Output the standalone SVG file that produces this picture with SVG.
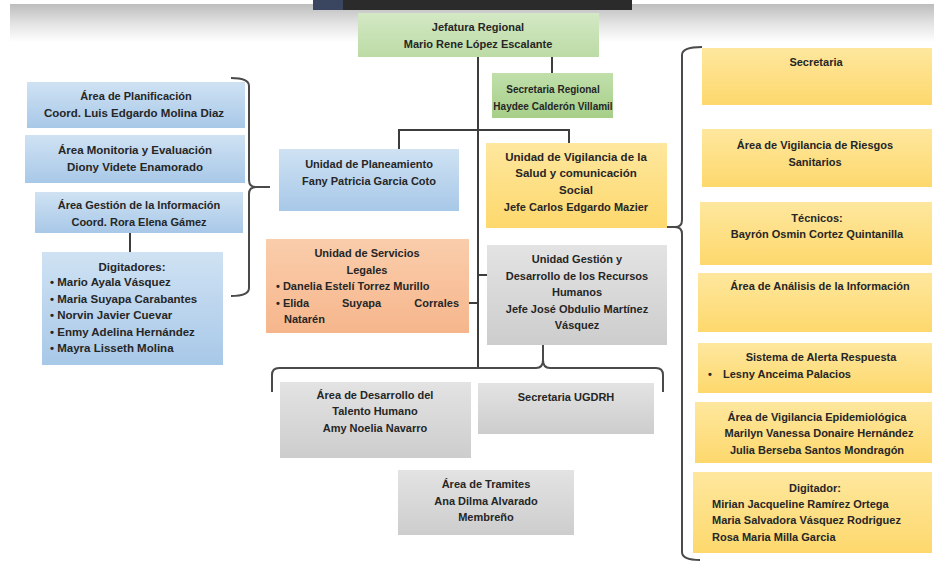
<svg xmlns="http://www.w3.org/2000/svg" width="934" height="564" viewBox="0 0 934 564">
<defs>
<linearGradient id="gTop" x1="0" y1="0" x2="0" y2="1"><stop offset="0" stop-color="#bdbdbd"/><stop offset="0.5" stop-color="#e2e2e2"/><stop offset="1" stop-color="#ffffff"/></linearGradient>
<linearGradient id="gBlue" x1="0" y1="0" x2="0" y2="1"><stop offset="0" stop-color="#cfe2f3"/><stop offset="1" stop-color="#a8c8e8"/></linearGradient>
<linearGradient id="gYel" x1="0" y1="0" x2="0" y2="1"><stop offset="0" stop-color="#fee79e"/><stop offset="1" stop-color="#fdd86c"/></linearGradient>
<linearGradient id="gGray" x1="0" y1="0" x2="0" y2="1"><stop offset="0" stop-color="#e3e3e3"/><stop offset="1" stop-color="#cdcdcd"/></linearGradient>
<linearGradient id="gOr" x1="0" y1="0" x2="0" y2="1"><stop offset="0" stop-color="#facdab"/><stop offset="1" stop-color="#f6b68c"/></linearGradient>
<linearGradient id="gGr1" x1="0" y1="0" x2="0" y2="1"><stop offset="0" stop-color="#d3e8c4"/><stop offset="1" stop-color="#bcdba5"/></linearGradient>
<linearGradient id="gGr2" x1="0" y1="0" x2="0" y2="1"><stop offset="0" stop-color="#c0dfaa"/><stop offset="1" stop-color="#a6cf88"/></linearGradient>
</defs>
<style>
text{font-family:"Liberation Sans",Arial,sans-serif;font-size:11px;font-weight:bold;fill:#262626}
.c{text-anchor:middle}
.e{text-anchor:end}
.s{font-size:10px}
.l{font-size:11.5px}
.ln{fill:none;stroke:#3d3d3d;stroke-width:2}
.br{fill:none;stroke:#4a4a4a;stroke-width:2}
</style>
<rect width="934" height="564" fill="#ffffff"/>
<rect x="10" y="4" width="924" height="38" fill="url(#gTop)"/>
<rect x="313" y="0" width="319" height="10" fill="#2b2b2b"/>
<rect x="313" y="0" width="30" height="10" fill="#3a4660"/>

<g id="connectors">
<path class="ln" d="M478,57 V368"/>
<path class="ln" d="M552,57 V73"/>
<path class="ln" d="M399,149 V130 H569 V143"/>
<path class="ln" d="M469,303 H478"/>
<path class="ln" d="M478,275 H487"/>
<path class="ln" d="M130,233 V252"/>
<path class="br" d="M272,392 V375 Q272,368 279,368 H536 Q543,368 543,360 V345 M543,360 Q543,368 550,368 H656 Q663,368 663,375 V392"/>
<path class="br" d="M231,78 Q249,78 249,86 V180 Q249,187 256,187 H270 M256,187 Q249,187 249,194 V288 Q249,296 231,296"/>
<path class="br" d="M702,47 Q682,47 682,55 V220 Q682,227 675,227 H665 M675,227 Q682,227 682,234 V552 Q682,560 700,560"/>
</g>

<g id="jefatura"><rect x="358" y="13" width="241" height="44" fill="url(#gGr1)"/>
<text class="c" x="478" y="31">Jefatura Regional</text><text class="c" x="478" y="48">Mario Rene López Escalante</text></g>

<g id="secretaria-regional"><rect x="492" y="73" width="121" height="45" fill="url(#gGr2)"/>
<text class="c s" x="553" y="93">Secretaria Regional</text><text class="c s" x="553" y="110">Haydee Calderón Villamil</text></g>

<g id="area-planificacion"><rect x="27" y="82" width="218" height="46" fill="url(#gBlue)"/>
<text class="c" x="136" y="100">Área de Planificación</text><text class="c l" x="134" y="117">Coord. Luis Edgardo Molina Diaz</text></g>

<g id="area-monitoria"><rect x="25" y="135" width="220" height="48" fill="url(#gBlue)"/>
<text class="c l" x="135" y="154">Área Monitoria y Evaluación</text><text class="c l" x="135" y="171">Diony Videte Enamorado</text></g>

<g id="area-gestion-info"><rect x="35" y="192" width="208" height="41" fill="url(#gBlue)"/>
<text class="c" x="139" y="209">Área Gestión de la Información</text><text class="c" x="139" y="226">Coord. Rora Elena Gámez</text></g>

<g id="digitadores"><rect x="42" y="252" width="181" height="113" fill="url(#gBlue)"/>
<text class="c l" x="132" y="271">Digitadores:</text>
<text class="l" x="50" y="286">• Mario Ayala Vásquez</text>
<text class="l" x="50" y="303">• Maria Suyapa Carabantes</text>
<text class="l" x="50" y="319">• Norvin Javier Cuevar</text>
<text class="l" x="50" y="336">• Enmy Adelina Hernández</text>
<text class="l" x="50" y="352">• Mayra Lisseth Molina</text></g>

<g id="unidad-planeamiento"><rect x="279" y="149" width="180" height="62" fill="url(#gBlue)"/>
<text class="c" x="369" y="168">Unidad de Planeamiento</text><text class="c" x="369" y="185">Fany Patricia Garcia Coto</text></g>

<g id="unidad-vigilancia"><rect x="486" y="143" width="181" height="85" fill="url(#gYel)"/>
<text class="c l" x="576" y="161">Unidad de Vigilancia de la</text>
<text class="c l" x="576" y="177">Salud y comunicación</text>
<text class="c l" x="576" y="194">Social</text>
<text class="c" x="576" y="211">Jefe Carlos Edgardo Mazier</text></g>

<g id="unidad-servicios-legales"><rect x="266" y="239" width="203" height="94" fill="url(#gOr)"/>
<text class="c" x="367" y="257">Unidad de Servicios</text>
<text class="c" x="367" y="274">Legales</text>
<text x="276" y="290">• Danelia Estelí Torrez Murillo</text>
<text x="276" y="307">• Elida</text><text x="342" y="307">Suyapa</text><text class="e" x="459" y="307">Corrales</text>
<text x="284" y="323">Natarén</text></g>

<g id="unidad-gestion"><rect x="487" y="245" width="180" height="100" fill="url(#gGray)"/>
<text class="c" x="577" y="263">Unidad Gestión y</text>
<text class="c" x="577" y="280">Desarrollo de los Recursos</text>
<text class="c" x="577" y="296">Humanos</text>
<text class="c" x="577" y="313">Jefe José Obdulio Martínez</text>
<text class="c" x="577" y="329">Vásquez</text></g>

<g id="area-desarrollo"><rect x="280" y="382" width="191" height="76" fill="url(#gGray)"/>
<text class="c" x="375" y="399">Área de Desarrollo del</text>
<text class="c" x="375" y="415">Talento Humano</text>
<text class="c" x="375" y="432">Amy Noelia Navarro</text></g>

<g id="secretaria-ugdrh"><rect x="478" y="383" width="176" height="51" fill="url(#gGray)"/>
<text class="c" x="566" y="401">Secretaria UGDRH</text></g>

<g id="area-tramites"><rect x="398" y="470" width="176" height="65" fill="url(#gGray)"/>
<text class="c" x="486" y="488">Área de Tramites</text>
<text class="c" x="486" y="505">Ana Dilma Alvarado</text>
<text class="c" x="486" y="521">Membreño</text></g>

<g id="secretaria"><rect x="702" y="48" width="230" height="57" fill="url(#gYel)"/>
<text class="c" x="816" y="66">Secretaria</text></g>

<g id="area-vigilancia-riesgos"><rect x="702" y="129" width="230" height="58" fill="url(#gYel)"/>
<text class="c" x="815" y="149">Área de Vigilancia de Riesgos</text>
<text class="c" x="815" y="166">Sanitarios</text></g>

<g id="tecnicos"><rect x="700" y="202" width="232" height="63" fill="url(#gYel)"/>
<text class="c" x="817" y="222">Técnicos:</text>
<text class="c" x="817" y="238">Bayrón Osmin Cortez Quintanilla</text></g>

<g id="area-analisis"><rect x="698" y="273" width="234" height="59" fill="url(#gYel)"/>
<text class="c" x="820" y="290">Área de Análisis de la Información</text></g>

<g id="sistema-alerta"><rect x="698" y="343" width="234" height="50" fill="url(#gYel)"/>
<text class="c" x="821" y="361">Sistema de Alerta Respuesta</text>
<text x="708" y="378">•</text><text x="723" y="378">Lesny Anceima Palacios</text></g>

<g id="area-vigilancia-epi"><rect x="695" y="402" width="237" height="61" fill="url(#gYel)"/>
<text class="c" x="817" y="421">Área de Vigilancia Epidemiológica</text>
<text class="c" x="819" y="437">Marilyn Vanessa Donaire Hernández</text>
<text class="c" x="817" y="454">Julia Berseba Santos Mondragón</text></g>

<g id="digitador"><rect x="693" y="472" width="239" height="81" fill="url(#gYel)"/>
<text class="c" x="815" y="492">Digitador:</text>
<text x="712" y="508">Mirian Jacqueline Ramírez Ortega</text>
<text x="712" y="524">Maria Salvadora Vásquez Rodriguez</text>
<text x="712" y="541">Rosa Maria Milla Garcia</text></g>
</svg>
